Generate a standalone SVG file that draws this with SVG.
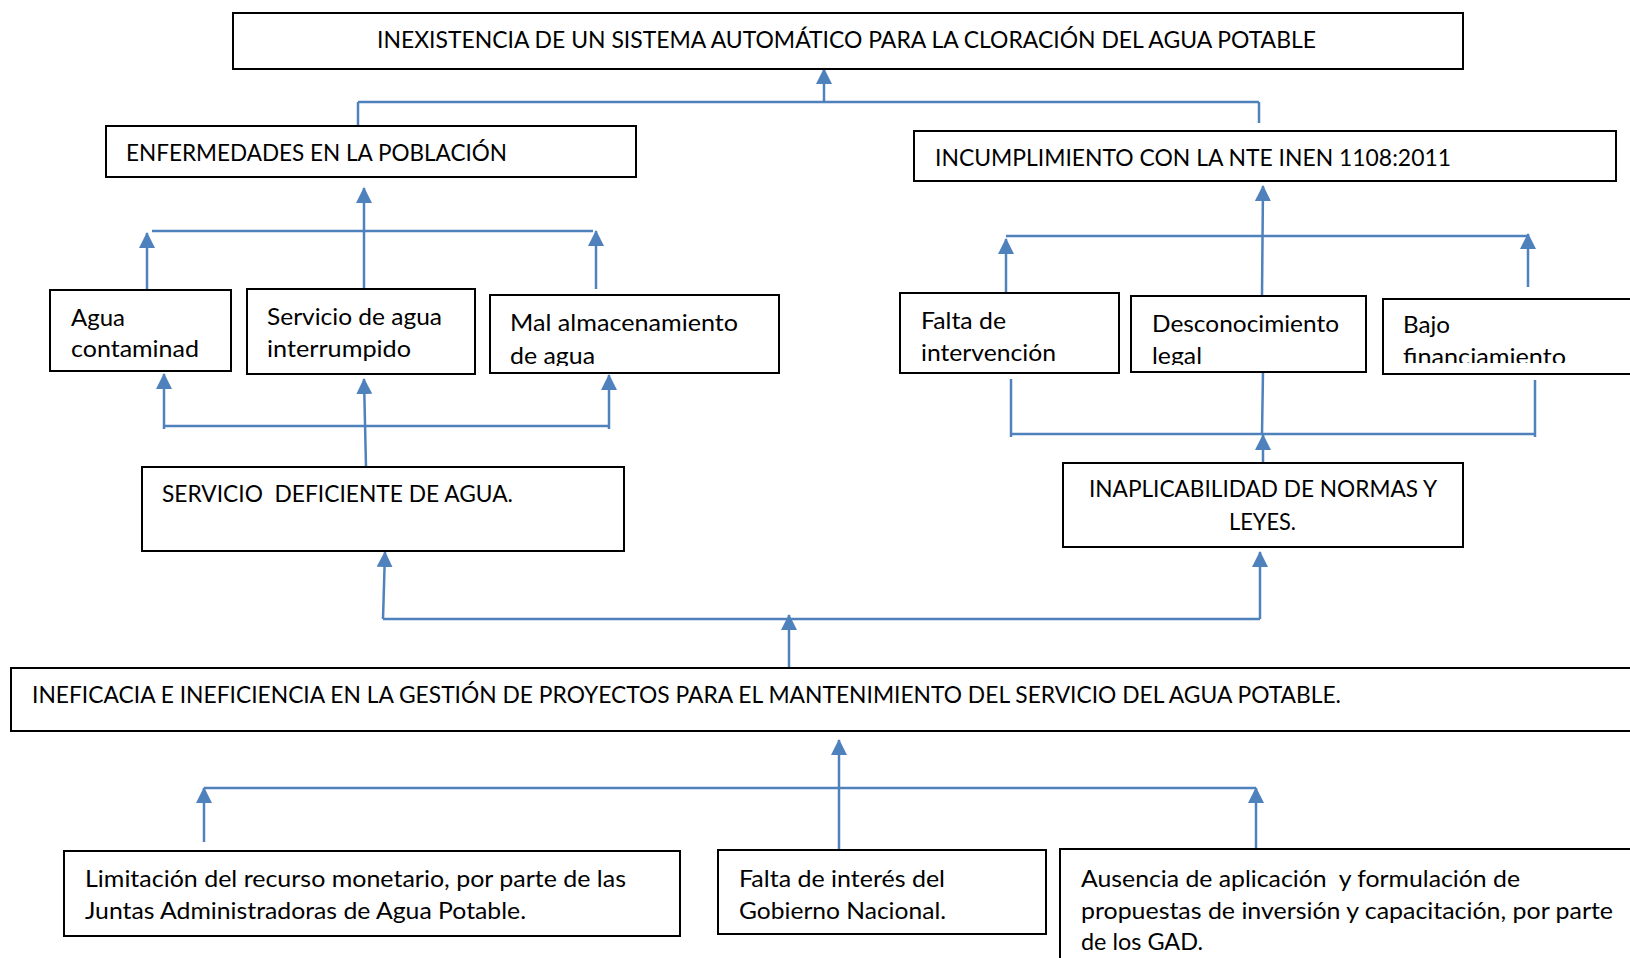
<svg xmlns="http://www.w3.org/2000/svg" width="1630" height="958" viewBox="0 0 1630 958">
<style>
.box{fill:#fff;stroke:#000;stroke-width:2}
.t{font-family:Lato,"Liberation Sans",sans-serif;font-size:23px;fill:#000}
.c{stroke:#4f81bd;stroke-width:2.5;fill:none}
.a{stroke:#4f81bd;stroke-width:2.5;fill:none;marker-end:url(#ah)}
</style>
<defs>
<marker id="ah" viewBox="0 0 16 16" refX="15" refY="8" markerWidth="16" markerHeight="16" markerUnits="userSpaceOnUse" orient="auto">
<path d="M0,0 L16,8 L0,16 z" fill="#4f81bd"/>
</marker>
<clipPath id="cMal"><rect x="490" y="295" width="289" height="71"/></clipPath>
<clipPath id="cDes"><rect x="1131" y="296" width="235" height="69"/></clipPath>
<clipPath id="cBajo"><rect x="1383" y="299" width="260" height="64"/></clipPath>
</defs>
<rect width="1630" height="958" fill="#fff"/>

<g id="connectors">
<line class="a" x1="824" y1="103" x2="824" y2="69"/>
<line class="c" x1="358" y1="102" x2="1259" y2="102"/>
<line class="c" x1="358" y1="102" x2="358" y2="126"/>
<line class="c" x1="1259" y1="102" x2="1259" y2="123"/>

<line class="a" x1="364" y1="289" x2="364" y2="188"/>
<line class="c" x1="152" y1="231" x2="593" y2="231"/>
<line class="a" x1="147" y1="290" x2="147" y2="233"/>
<line class="a" x1="596" y1="289" x2="596" y2="231"/>

<line class="c" x1="164" y1="426" x2="609" y2="426"/>
<line class="a" x1="164" y1="429" x2="164" y2="374"/>
<line class="a" x1="609" y1="429" x2="609" y2="375"/>
<line class="a" x1="366" y1="467" x2="364" y2="379"/>

<line class="a" x1="1262" y1="296" x2="1263" y2="186"/>
<line class="c" x1="1006" y1="236" x2="1527" y2="236"/>
<line class="a" x1="1006" y1="295" x2="1006" y2="239"/>
<line class="a" x1="1528" y1="287" x2="1528" y2="234"/>

<line class="c" x1="1011" y1="379" x2="1011" y2="437"/>
<line class="c" x1="1011" y1="434" x2="1535" y2="434"/>
<line class="c" x1="1535" y1="380" x2="1535" y2="437"/>
<line class="c" x1="1263" y1="372" x2="1262" y2="434"/>
<line class="a" x1="1263" y1="463" x2="1263" y2="435"/>

<line class="c" x1="383" y1="619" x2="1260" y2="619"/>
<line class="a" x1="383" y1="619" x2="385" y2="552"/>
<line class="a" x1="1260" y1="619" x2="1260" y2="552"/>
<line class="a" x1="789" y1="668" x2="789" y2="615"/>

<line class="a" x1="839" y1="849" x2="839" y2="740"/>
<line class="c" x1="204" y1="788" x2="1256" y2="788"/>
<line class="a" x1="204" y1="842" x2="204" y2="788"/>
<line class="a" x1="1256" y1="856" x2="1256" y2="788"/>
</g>

<g id="n-inexistencia">
<rect class="box" x="233" y="13" width="1230" height="56"/>
<text class="t" x="377" y="48" textLength="939" lengthAdjust="spacingAndGlyphs">INEXISTENCIA DE UN SISTEMA AUTOMÁTICO PARA LA CLORACIÓN DEL AGUA POTABLE</text>
</g>

<g id="n-enfermedades">
<rect class="box" x="106" y="126" width="530" height="51"/>
<text class="t" x="126" y="161" textLength="381" lengthAdjust="spacingAndGlyphs">ENFERMEDADES EN LA POBLACIÓN</text>
</g>

<g id="n-incumplimiento">
<rect class="box" x="914" y="131" width="702" height="50"/>
<text class="t" x="935" y="166" textLength="516" lengthAdjust="spacingAndGlyphs">INCUMPLIMIENTO CON LA NTE INEN 1108:2011</text>
</g>

<g id="n-agua-contaminada">
<rect class="box" x="50" y="290" width="181" height="81"/>
<text class="t" x="71" y="326" textLength="54" lengthAdjust="spacingAndGlyphs">Agua</text>
<text class="t" x="71" y="357" textLength="128" lengthAdjust="spacingAndGlyphs">contaminad</text>
</g>

<g id="n-servicio-interrumpido">
<rect class="box" x="247" y="289" width="228" height="85"/>
<text class="t" x="267" y="325" textLength="175" lengthAdjust="spacingAndGlyphs">Servicio de agua</text>
<text class="t" x="267" y="357" textLength="144" lengthAdjust="spacingAndGlyphs">interrumpido</text>
</g>

<g id="n-mal-almacenamiento">
<rect class="box" x="490" y="295" width="289" height="78"/>
<g clip-path="url(#cMal)">
<text class="t" x="510" y="331" textLength="228" lengthAdjust="spacingAndGlyphs">Mal almacenamiento</text>
<text class="t" x="510" y="364" textLength="85" lengthAdjust="spacingAndGlyphs">de agua</text>
</g>
</g>

<g id="n-servicio-deficiente">
<rect class="box" x="142" y="467" width="482" height="84"/>
<text class="t" x="162" y="502" xml:space="preserve" style="white-space:pre" textLength="351" lengthAdjust="spacingAndGlyphs">SERVICIO  DEFICIENTE DE AGUA.</text>
</g>

<g id="n-falta-intervencion">
<rect class="box" x="900" y="293" width="219" height="80"/>
<text class="t" x="921" y="329" textLength="85" lengthAdjust="spacingAndGlyphs">Falta de</text>
<text class="t" x="921" y="361" textLength="135" lengthAdjust="spacingAndGlyphs">intervención</text>
</g>

<g id="n-desconocimiento">
<rect class="box" x="1131" y="296" width="235" height="76"/>
<g clip-path="url(#cDes)">
<text class="t" x="1152" y="332" textLength="187" lengthAdjust="spacingAndGlyphs">Desconocimiento</text>
<text class="t" x="1152" y="364" textLength="50" lengthAdjust="spacingAndGlyphs">legal</text>
</g>
</g>

<g id="n-bajo-financiamiento">
<rect class="box" x="1383" y="299" width="260" height="75"/>
<g clip-path="url(#cBajo)">
<text class="t" x="1403" y="333" textLength="47" lengthAdjust="spacingAndGlyphs">Bajo</text>
<text class="t" x="1403" y="365" textLength="163" lengthAdjust="spacingAndGlyphs">financiamiento</text>
</g>
</g>

<g id="n-inaplicabilidad">
<rect class="box" x="1063" y="463" width="400" height="84"/>
<text class="t" x="1089" y="497" textLength="348" lengthAdjust="spacingAndGlyphs">INAPLICABILIDAD DE NORMAS Y</text>
<text class="t" x="1229" y="530" textLength="67" lengthAdjust="spacingAndGlyphs">LEYES.</text>
</g>

<g id="n-ineficacia">
<rect class="box" x="11" y="668" width="1630" height="63"/>
<text class="t" x="32" y="703" textLength="1309" lengthAdjust="spacingAndGlyphs">INEFICACIA E INEFICIENCIA EN LA GESTIÓN DE PROYECTOS PARA EL MANTENIMIENTO DEL SERVICIO DEL AGUA POTABLE.</text>
</g>

<g id="n-limitacion">
<rect class="box" x="64" y="851" width="616" height="85"/>
<text class="t" x="85" y="887" textLength="541" lengthAdjust="spacingAndGlyphs">Limitación del recurso monetario, por parte de las</text>
<text class="t" x="85" y="919" textLength="441" lengthAdjust="spacingAndGlyphs">Juntas Administradoras de Agua Potable.</text>
</g>

<g id="n-falta-interes">
<rect class="box" x="718" y="850" width="328" height="84"/>
<text class="t" x="739" y="887" textLength="206" lengthAdjust="spacingAndGlyphs">Falta de interés del</text>
<text class="t" x="739" y="919" textLength="207" lengthAdjust="spacingAndGlyphs">Gobierno Nacional.</text>
</g>

<g id="n-ausencia">
<rect class="box" x="1060" y="849" width="600" height="130"/>
<text class="t" x="1081" y="887" xml:space="preserve" style="white-space:pre" textLength="439" lengthAdjust="spacingAndGlyphs">Ausencia de aplicación  y formulación de</text>
<text class="t" x="1081" y="919" textLength="532" lengthAdjust="spacingAndGlyphs">propuestas de inversión y capacitación, por parte</text>
<text class="t" x="1081" y="950" textLength="122" lengthAdjust="spacingAndGlyphs">de los GAD.</text>
</g>
</svg>
